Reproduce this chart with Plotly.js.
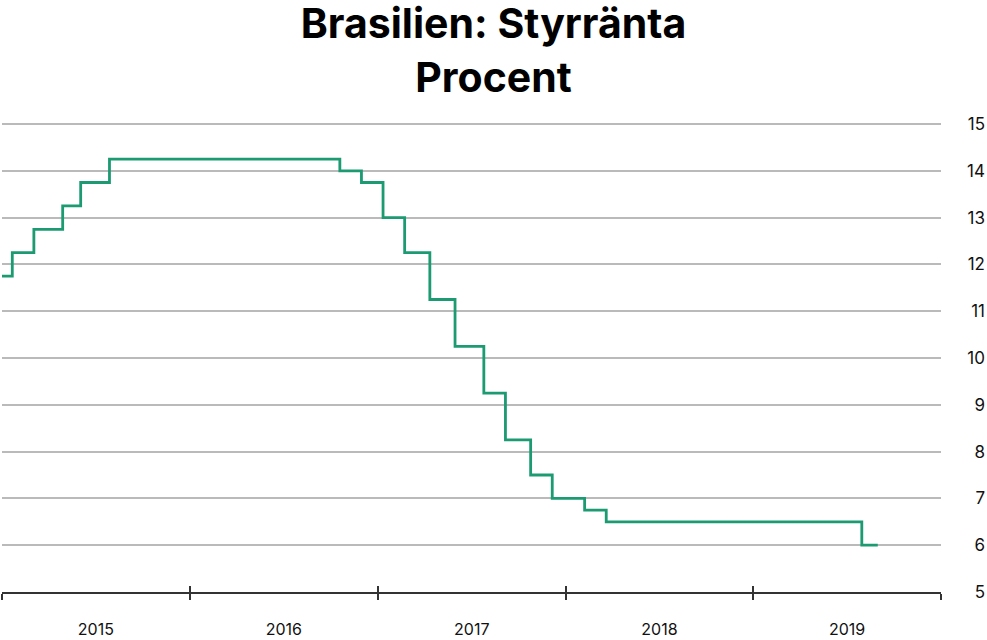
<!DOCTYPE html>
<html><head><meta charset="utf-8">
<script src="https://cdn.plot.ly/plotly-3.0.1.min.js"></script>
<style>html,body{margin:0;padding:0;background:#fff}#c{width:987px;height:640px}</style>
</head><body><div id="c"></div>
<script>
const dates = ["2015-01-01","2015-01-21","2015-03-04","2015-04-29","2015-06-03","2015-07-29","2016-10-19","2016-11-30","2017-01-11","2017-02-22","2017-04-12","2017-05-31","2017-07-26","2017-09-06","2017-10-25","2017-12-06","2018-02-07","2018-03-21","2019-07-31","2019-08-31"];
const rates = [11.75,12.25,12.75,13.25,13.75,14.25,14.0,13.75,13.0,12.25,11.25,10.25,9.25,8.25,7.5,7.0,6.75,6.5,6.0,6.0];
const yTicks = [5,6,7,8,9,10,11,12,13,14,15];
const xRange = ["2015-01-01","2020-01-01"];
const yRange = [5, 15.043];

const font = "Inter, 'Open Sans', sans-serif";
const data = [{
  x: dates, y: rates, type: "scatter", mode: "lines",
  line: {shape: "hv", color: "#1c9a71", width: 2.8},
  hoverinfo: "skip"
}, {x: xRange, y: [null, null], xaxis: "x2", yaxis: "y", type: "scatter", mode: "lines", hoverinfo: "skip"}];
const dom = [0, (941-2)/983];
const layout = {
  width: 987, height: 640,
  margin: {l: 2, r: 2, t: 122, b: 48},
  paper_bgcolor: "#fff", plot_bgcolor: "#fff",
  showlegend: false,
  title: {text: "<b>Brasilien: Styrränta<br>Procent</b>", x: 0.5, xanchor: "center", yref: "container", y: 0.94, yanchor: "top",
          font: {family: font, size: 41, color: "#000"}},
  xaxis: {
    type: "date", range: xRange, domain: dom,
    tick0: "2015-01-01", dtick: "M12", ticklabelmode: "period", tickformat: "%Y",
    ticks: "outside", ticklen: 6, tickwidth: 2, tickcolor: "#333",
    showline: true, linecolor: "#333", linewidth: 2,
    showgrid: false, zeroline: false,
    ticklabelstandoff: 16,
    tickfont: {family: font, size: 16, color: "#111"}
  },
  xaxis2: {
    type: "date", range: xRange, domain: dom, overlaying: "x", anchor: "y",
    tick0: "2015-01-01", dtick: "M12",
    ticks: "inside", ticklen: 6, tickwidth: 2, tickcolor: "#333",
    showticklabels: false, showgrid: false, zeroline: false, showline: false
  },
  yaxis: {
    range: yRange, tickvals: yTicks, anchor: "free", position: 1, side: "left",
    showgrid: true, gridcolor: "#bababa", gridwidth: 2,
    zeroline: false, showline: false, ticks: "",
    ticklabelstandoff: 0,
    tickfont: {family: font, size: 17, color: "#111"}
  }
};
Plotly.newPlot("c", data, layout, {displayModeBar: false, staticPlot: true});
</script></body></html>
